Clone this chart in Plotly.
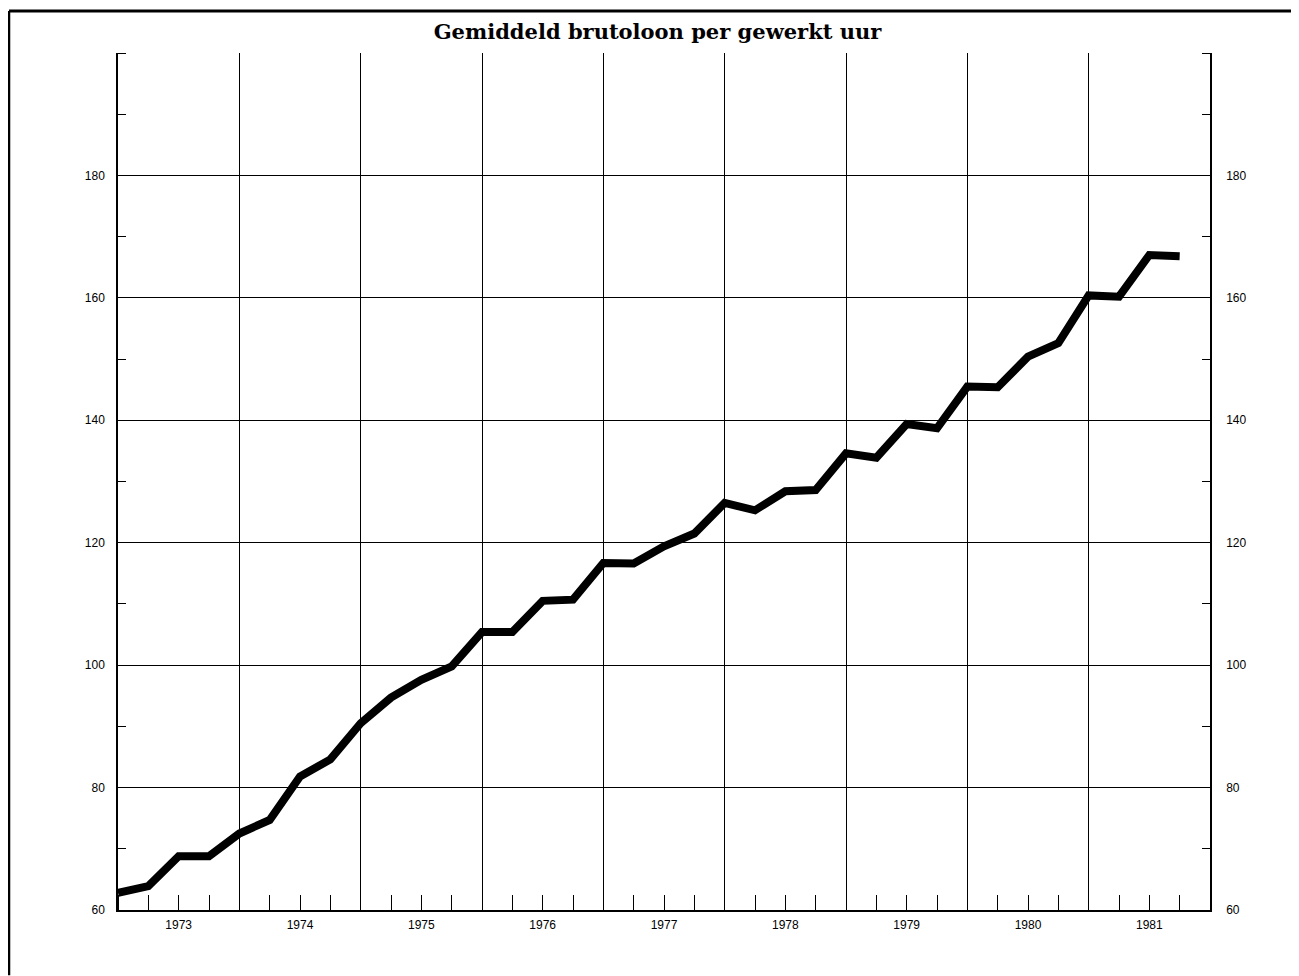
import plotly.graph_objects as go

years = [1973, 1974, 1975, 1976, 1977, 1978, 1979, 1980, 1981]
quarters = [0.0, 0.25, 0.5, 0.75]
wage_index = [
    62.8, 63.9, 68.8, 68.8,
    72.5, 74.7, 81.8, 84.6,
    90.5, 94.7, 97.6, 99.8,
    105.4, 105.4, 110.5, 110.7,
    116.7, 116.6, 119.4, 121.5,
    126.5, 125.3, 128.4, 128.6,
    134.6, 133.9, 139.4, 138.7,
    145.5, 145.4, 150.4, 152.6,
    160.4, 160.2, 167.0, 166.8,
]
y_ticks = [60, 80, 100, 120, 140, 160, 180]
title_text = "Gemiddeld brutoloon per gewerkt uur"

x_vals = [y + q for y in years for q in quarters]
x_range = [years[0], years[-1] + 1]
y_range = [60, 200]

tick_font = dict(family="Liberation Sans, Arial, sans-serif", size=12, color="black")

fig = go.Figure()
fig.add_trace(go.Scatter(
    x=x_vals, y=wage_index, mode="lines",
    line=dict(color="black", width=8), hoverinfo="skip", showlegend=False,
))
# helper invisible trace so the overlaying axes are drawn
fig.add_trace(go.Scatter(
    x=x_vals, y=wage_index, mode="lines", xaxis="x2", yaxis="y2",
    line=dict(color="rgba(0,0,0,0)", width=0), hoverinfo="skip", showlegend=False,
))

fig.update_layout(
    width=1299, height=976,
    margin=dict(l=110, r=97, t=45, b=74),
    paper_bgcolor="white", plot_bgcolor="white",
    title=dict(text=title_text, x=0.5, xanchor="center", y=0.976, yanchor="middle",
               font=dict(family="DejaVu Serif, serif", size=21, color="black", weight="bold")),
    xaxis=dict(
        range=x_range, tickvals=list(range(years[0], years[-1] + 2)),
        showticklabels=False, ticks="",
        showgrid=True, gridcolor="black", gridwidth=1,
        showline=True, linecolor="black", linewidth=1.5, mirror=False,
        zeroline=False,
        minor=dict(dtick=0.25, tick0=years[0], ticks="inside", ticklen=15,
                   tickcolor="black", tickwidth=1.2, showgrid=False),
    ),
    xaxis2=dict(
        range=x_range, overlaying="x", side="bottom", anchor="y",
        tickvals=[y + 0.5 for y in years], ticktext=[str(y) for y in years],
        tickfont=tick_font, ticks="", showgrid=False, showline=False, zeroline=False,
        ticklabelstandoff=6,
    ),
    yaxis=dict(
        range=y_range, tickvals=y_ticks, tickfont=tick_font,
        showgrid=True, gridcolor="black", gridwidth=1,
        showline=True, linecolor="black", linewidth=1.5,
        ticks="", zeroline=False, ticklabelstandoff=9,
        minor=dict(dtick=10, tick0=60, ticks="inside", ticklen=8,
                   tickcolor="black", tickwidth=1.2, showgrid=False),
    ),
    yaxis2=dict(
        range=y_range, overlaying="y", side="right", anchor="x",
        tickvals=y_ticks, tickfont=tick_font, showgrid=False,
        showline=True, linecolor="black", linewidth=1.5,
        ticks="", zeroline=False, ticklabelstandoff=12,
        minor=dict(dtick=10, tick0=60, ticks="inside", ticklen=8,
                   tickcolor="black", tickwidth=1.2, showgrid=False),
    ),
    shapes=[
        dict(type="line", xref="paper", yref="paper",
             x0=-0.0998, x1=1.0888, y0=1.049, y1=1.049,
             line=dict(color="black", width=3)),
        dict(type="line", xref="paper", yref="paper",
             x0=-0.0998, x1=-0.0998, y0=1.049, y1=-0.076,
             line=dict(color="black", width=2.5)),
    ],
)

fig.write_html("out.html")
